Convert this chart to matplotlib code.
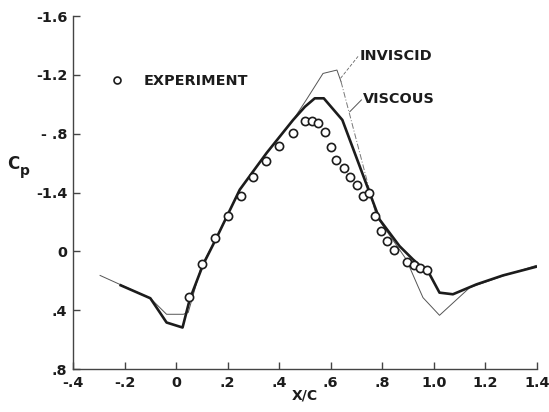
import matplotlib
matplotlib.use("Agg")
import matplotlib.pyplot as plt

# pressure distribution, x/c vs Cp
exp_x = [0.051, 0.101, 0.150, 0.200, 0.251, 0.300, 0.349, 0.400, 0.454, 0.500,
         0.527, 0.551, 0.576, 0.600, 0.622, 0.652, 0.676, 0.700, 0.725, 0.748,
         0.773, 0.796, 0.818, 0.845, 0.896, 0.922, 0.948, 0.975]
exp_cp = [0.307, 0.088, -0.091, -0.240, -0.379, -0.504, -0.612, -0.718, -0.808, -0.890,
          -0.888, -0.870, -0.811, -0.707, -0.619, -0.567, -0.506, -0.449, -0.375, -0.398,
          -0.239, -0.142, -0.070, -0.009, 0.070, 0.095, 0.113, 0.127]

visc_x = [-0.215, -0.100, -0.037, 0.025, 0.053, 0.105, 0.157, 0.247, 0.351, 0.454,
          0.500, 0.538, 0.573, 0.645, 0.790, 0.867, 0.919, 0.984, 1.022, 1.074,
          1.165, 1.268, 1.397]
visc_cp = [0.230, 0.318, 0.483, 0.517, 0.325, 0.088, -0.093, -0.420, -0.669, -0.894,
           -0.984, -1.041, -1.041, -0.894, -0.216, -0.036, 0.054, 0.156, 0.280, 0.291,
           0.224, 0.163, 0.104]

invisc_x = [-0.295, -0.100, -0.037, 0.028, 0.047, 0.098, 0.157, 0.247, 0.351, 0.454,
            0.505, 0.570, 0.624, 0.640, 0.777, 0.893, 0.938, 0.958, 1.022, 1.139,
            1.268, 1.397]
invisc_cp = [0.163, 0.318, 0.427, 0.427, 0.415, 0.100, -0.093, -0.420, -0.669, -0.894,
             -1.030, -1.210, -1.233, -1.154, -0.240, 0.054, 0.235, 0.314, 0.434, 0.246,
             0.167, 0.095]

x_ticks = [-0.4, -0.2, 0, 0.2, 0.4, 0.6, 0.8, 1.0, 1.2, 1.4]
x_labels = ['-.4', '-.2', '0', '.2', '.4', '.6', '.8', '1.0', '1.2', '1.4']
y_ticks = [-1.6, -1.2, -0.8, -0.4, 0, 0.4, 0.8]
y_labels = ['-1.6', '-1.2', '- .8', '-1.4', '0', '.4', '.8']

ink = '#1c1c1c'
font = 'DejaVu Sans'
fs = 10.4

fig = plt.figure(figsize=(5.49, 4.12), dpi=100)
ax = fig.add_axes([0.133, 0.104, 0.845, 0.857])

# inviscid: thin line, the steep drop behind the peak is broken
ax.plot(invisc_x[:14], invisc_cp[:14], color='#555555', lw=0.7, zorder=2)
ax.plot(invisc_x[13:15], invisc_cp[13:15], color='#777777', lw=0.7,
        ls=(0, (6, 2, 1, 2)), zorder=2)
ax.plot(invisc_x[14:], invisc_cp[14:], color='#555555', lw=0.7, zorder=2)

# viscous: heavy line
ax.plot(visc_x, visc_cp, color=ink, lw=1.9, zorder=3)

ax.plot(exp_x, exp_cp, 'o', ms=5.9, mfc='white', mec=ink, mew=1.2, zorder=4)

# labels with leader lines
ax.plot([0.638, 0.706], [-1.177, -1.326], color='#666666', lw=0.6, ls=(0, (4, 2)))
ax.text(0.712, -1.328, 'INVISCID', fontsize=fs, color=ink, family=font,
        fontweight='bold', va='center', ha='left')
ax.plot([0.674, 0.719], [-0.950, -1.030], color='#555555', lw=0.7)
ax.text(0.724, -1.037, 'VISCOUS', fontsize=fs, color=ink, family=font,
        fontweight='bold', va='center', ha='left')

ax.plot([-0.231], [-1.165], 'o', ms=5.0, mfc='white', mec=ink, mew=1.2)
ax.text(-0.125, -1.162, 'EXPERIMENT', fontsize=fs, color=ink, family=font,
        fontweight='bold', va='center', ha='left')

ax.set_xlim(-0.4, 1.4)
ax.set_ylim(0.8, -1.6)
ax.set_xticks(x_ticks)
ax.set_xticklabels(x_labels)
ax.set_yticks(y_ticks)
ax.set_yticklabels(y_labels)

for side in ['top', 'right']:
    ax.spines[side].set_visible(False)
for side in ['left', 'bottom']:
    ax.spines[side].set_color('#444444')
    ax.spines[side].set_linewidth(1.0)

ax.tick_params(direction='in', length=5, width=1.0, color='#444444',
               labelsize=fs, labelcolor=ink, pad=4)
ax.tick_params(axis='x', pad=5)
for lbl in ax.get_xticklabels() + ax.get_yticklabels():
    lbl.set_fontweight('bold')
    lbl.set_family(font)

ax.set_xlabel('X/C', fontsize=10, fontweight='bold', color=ink, labelpad=-1)
fig.text(0.013, 0.602, 'C', fontsize=12, fontweight='bold', color=ink,
         ha='left', va='center', family=font)
fig.text(0.036, 0.586, 'p', fontsize=10, fontweight='bold', color=ink,
         ha='left', va='center', family=font)

fig.savefig('out.png', dpi=100)
